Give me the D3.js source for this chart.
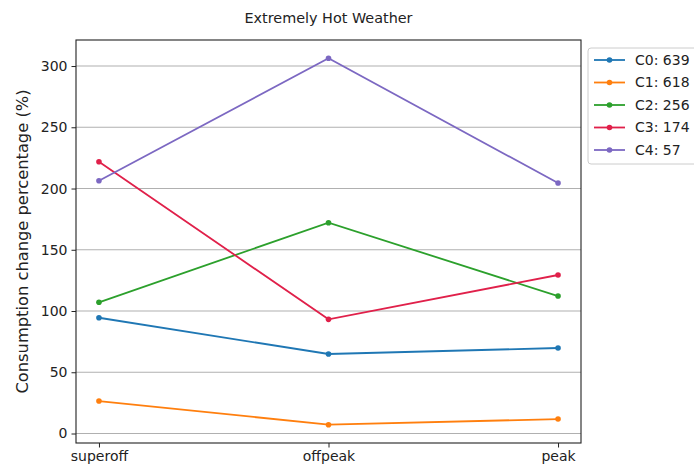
<!DOCTYPE html>
<html>
<head>
<meta charset="utf-8">
<script src="https://cdn.jsdelivr.net/npm/d3@7"></script>
<style>
  html, body { margin: 0; padding: 0; background: #fff; }
  svg { display: block; font-family: "DejaVu Sans", sans-serif; }
</style>
</head>
<body>
<svg id="chart" width="694" height="470"></svg>
<script>
// Time-of-use periods on the x axis
const periods = ["superoff", "offpeak", "peak"];

// Cluster names and sizes shown in the legend
const clusterNames = ["C0", "C1", "C2", "C3", "C4"];
const clusterSizes = [639, 618, 256, 174, 57];

// Consumption change (%) per cluster, one value per period
const c0Values = [94.5, 64.9, 69.8];
const c1Values = [26.5, 7.2, 11.8];
const c2Values = [107.1, 172.1, 112.2];
const c3Values = [221.9, 93.2, 129.4];
const c4Values = [206.4, 306.3, 204.5];

const yTicks = [0, 50, 100, 150, 200, 250, 300];

const seriesValues = [c0Values, c1Values, c2Values, c3Values, c4Values];
const colors = ["#1f77b4", "#ff7f0e", "#2ca02c", "#e0204a", "#7c68c2"];

const svg = d3.select("#chart");
const frame = { left: 76, right: 581, top: 40, bottom: 443 };

// x: categorical positions with 5% padding on each side
const x = d3.scaleLinear()
  .domain([-0.1, periods.length - 1 + 0.1])
  .range([frame.left, frame.right]);

// y: data extent with 5% margins
const allVals = seriesValues.flat();
const vMin = d3.min(allVals), vMax = d3.max(allVals);
const pad = (vMax - vMin) * 0.05;
const y = d3.scaleLinear()
  .domain([vMin - pad, vMax + pad])
  .range([frame.bottom, frame.top]);

// Horizontal grid lines
svg.append("g")
  .selectAll("line")
  .data(yTicks)
  .join("line")
  .attr("x1", frame.left).attr("x2", frame.right)
  .attr("y1", d => y(d)).attr("y2", d => y(d))
  .attr("stroke", "#b0b0b0")
  .attr("stroke-width", 1.1);

// Series lines and point markers
const line = d3.line()
  .x((d, i) => x(i))
  .y(d => y(d));

seriesValues.forEach((vals, s) => {
  const g = svg.append("g");
  g.append("path")
    .datum(vals)
    .attr("d", line)
    .attr("fill", "none")
    .attr("stroke", colors[s])
    .attr("stroke-width", 1.8);
  g.selectAll("circle")
    .data(vals)
    .join("circle")
    .attr("cx", (d, i) => x(i))
    .attr("cy", d => y(d))
    .attr("r", 2.8)
    .attr("fill", colors[s]);
});

// Axes
const xAxis = d3.axisBottom(x)
  .tickValues(d3.range(periods.length))
  .tickFormat(i => periods[i])
  .tickSize(4.5)
  .tickPadding(4);
const gx = svg.append("g")
  .attr("transform", `translate(0,${frame.bottom})`)
  .call(xAxis);
gx.select(".domain").remove();
gx.selectAll("text").attr("font-size", 14).attr("fill", "#222")
  .attr("font-family", "DejaVu Sans, sans-serif");
gx.selectAll("line").attr("stroke", "#222");

const yAxis = d3.axisLeft(y)
  .tickValues(yTicks)
  .tickSize(4.5)
  .tickPadding(4);
const gy = svg.append("g")
  .attr("transform", `translate(${frame.left},0)`)
  .call(yAxis);
gy.select(".domain").remove();
gy.selectAll("text").attr("font-size", 14).attr("fill", "#222")
  .attr("font-family", "DejaVu Sans, sans-serif");
gy.selectAll("line").attr("stroke", "#222");

// Frame around the plot area
svg.append("rect")
  .attr("x", frame.left).attr("y", frame.top)
  .attr("width", frame.right - frame.left)
  .attr("height", frame.bottom - frame.top)
  .attr("fill", "none")
  .attr("stroke", "#222")
  .attr("stroke-width", 1.1);

// Title
svg.append("text")
  .attr("x", (frame.left + frame.right) / 2)
  .attr("y", 23)
  .attr("text-anchor", "middle")
  .attr("font-size", 14.4)
  .attr("fill", "#222")
  .text("Extremely Hot Weather");

// Y axis label
svg.append("text")
  .attr("transform", `translate(28,${(frame.top + frame.bottom) / 2}) rotate(-90)`)
  .attr("text-anchor", "middle")
  .attr("font-size", 16.3)
  .attr("fill", "#222")
  .text("Consumption change percentage (%)");

// Legend
const legend = svg.append("g").attr("transform", "translate(588,48)");
legend.append("rect")
  .attr("x", 0).attr("y", 0)
  .attr("width", 120).attr("height", 116)
  .attr("rx", 3)
  .attr("fill", "#fff")
  .attr("stroke", "#cccccc");
clusterNames.forEach((name, i) => {
  const ly = 12 + i * 22.5;
  legend.append("line")
    .attr("x1", 6).attr("x2", 37)
    .attr("y1", ly).attr("y2", ly)
    .attr("stroke", colors[i])
    .attr("stroke-width", 1.8);
  legend.append("circle")
    .attr("cx", 21.5).attr("cy", ly).attr("r", 2.8)
    .attr("fill", colors[i]);
  legend.append("text")
    .attr("x", 47).attr("y", ly)
    .attr("dy", "0.35em")
    .attr("font-size", 14)
    .attr("fill", "#222")
    .text(`${name}: ${clusterSizes[i]}`);
});
</script>
</body>
</html>
